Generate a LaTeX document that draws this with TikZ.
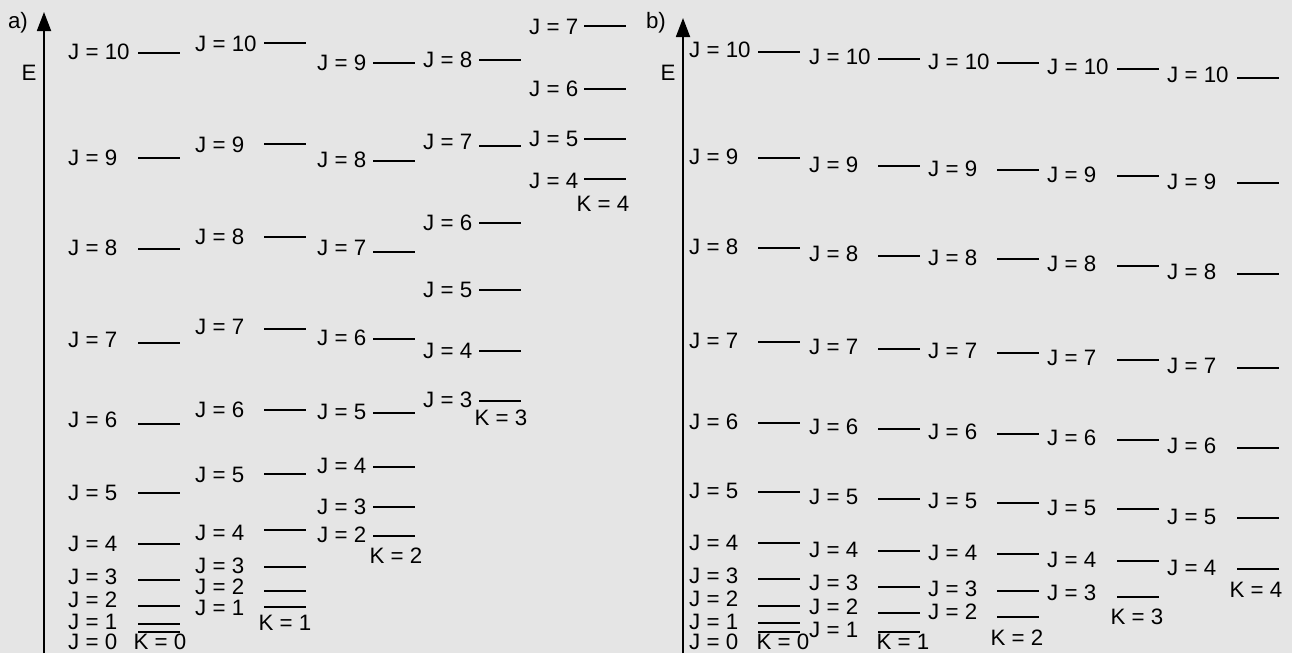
\documentclass[tikz,border=0pt]{standalone}
\usepackage{fontspec}
\setmainfont{Liberation Sans}
\usetikzlibrary{arrows.meta}
\definecolor{bgc}{RGB}{229,229,229}
\tikzset{
 lab/.style={anchor=west, inner sep=0pt, font=\fontsize{22.3}{25}\selectfont},
 klab/.style={anchor=center, inner sep=0pt, font=\fontsize{22.3}{25}\selectfont},
 lev/.style={line width=1.8pt},
 axisline/.style={line width=1.8pt, -{Triangle[length=19pt,width=14pt]}},
}
\newcommand{\lvl}[6]{%
 \node[lab] (#1) at (#2,#3) {J = #6};
 \coordinate (#1-l) at (#4,#5);
 \coordinate (#1-r) at ({#4+42},#5);
 \draw[lev] (#1-l) -- (#1-r);
}
\begin{document}
\begin{tikzpicture}[x=1pt,y=-1pt]
\fill[bgc] (0,0) rectangle (1292,653);
\useasboundingbox (0,0) rectangle (1292,653);
% panel a
\node[klab] (pa) at (18,23) {a)};
\node[klab] (ea) at (29,73) {E};
\coordinate (axa0) at (44,653);
\coordinate (axa1) at (44,12);
\draw[axisline] (axa0) -- (axa1);
\foreach \jj/\ly/\yy in {10/52/53,9/158/158,8/248/249,7/340/343,6/420/424,5/493/493,4/544/544,3/577/580,2/600/606,1/622/624,0/642/632}
 {\lvl{a1j\jj}{68}{\ly}{138}{\yy}{\jj}}
\foreach \jj/\ly/\yy in {10/44/43,9/145/144,8/237/237,7/327/329,6/410/410,5/475/474,4/533/530,3/566/567,2/587/591,1/608/607}
 {\lvl{a2j\jj}{195}{\ly}{264}{\yy}{\jj}}
\foreach \jj/\ly/\yy in {9/63/63,8/160/161,7/248/252,6/338/339,5/412/413,4/466/467,3/507/507,2/535/536}
 {\lvl{a3j\jj}{317}{\ly}{373}{\yy}{\jj}}
\foreach \jj/\ly/\yy in {8/60/60,7/142/146,6/223/223,5/290/290,4/351/351,3/400/401}
 {\lvl{a4j\jj}{423}{\ly}{479}{\yy}{\jj}}
\foreach \jj/\ly/\yy in {7/27/26,6/89/89,5/139/139,4/181/179}
 {\lvl{a5j\jj}{529}{\ly}{584}{\yy}{\jj}}
\node[klab] (ak0) at (160,642) {K = 0};
\node[klab] (ak1) at (285,623) {K = 1};
\node[klab] (ak2) at (396,556) {K = 2};
\node[klab] (ak3) at (501,418) {K = 3};
\node[klab] (ak4) at (603,204) {K = 4};
% panel b
\node[klab] (pb) at (656,23) {b)};
\node[klab] (eb) at (668,73) {E};
\coordinate (axb0) at (683,653);
\coordinate (axb1) at (683,18);
\draw[axisline] (axb0) -- (axb1);
\foreach \jj/\ly/\yy in {10/50/52,9/157/158,8/247/248,7/341/342,6/422/423,5/491/492,4/543/543,3/576/579,2/599/606,1/622/623,0/642/632}
 {\lvl{b1j\jj}{689}{\ly}{758}{\yy}{\jj}}
\foreach \jj/\ly/\yy in {10/57/59,9/165/166,8/254/256,7/347/349,6/427/429,5/497/499,4/550/551,3/583/587,2/607/613,1/630/632}
 {\lvl{b2j\jj}{809}{\ly}{878}{\yy}{\jj}}
\foreach \jj/\ly/\yy in {10/62/63,9/169/170,8/258/259,7/351/353,6/432/434,5/501/503,4/553/554,3/589/591,2/612/617}
 {\lvl{b3j\jj}{928}{\ly}{997}{\yy}{\jj}}
\foreach \jj/\ly/\yy in {10/67/69,9/175/176,8/264/266,7/358/360,6/438/440,5/508/509,4/560/561,3/593/597}
 {\lvl{b4j\jj}{1047}{\ly}{1117}{\yy}{\jj}}
\foreach \jj/\ly/\yy in {10/75/78,9/182/183,8/272/274,7/366/368,6/446/448,5/517/518,4/568/569}
 {\lvl{b5j\jj}{1167}{\ly}{1237}{\yy}{\jj}}
\node[klab] (bk0) at (783,642) {K = 0};
\node[klab] (bk1) at (903,642) {K = 1};
\node[klab] (bk2) at (1017,638) {K = 2};
\node[klab] (bk3) at (1137,617) {K = 3};
\node[klab] (bk4) at (1256,590) {K = 4};
\end{tikzpicture}
\end{document}
